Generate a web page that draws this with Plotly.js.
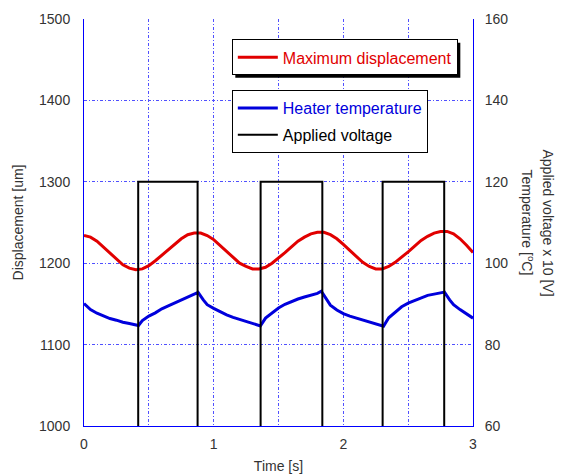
<!DOCTYPE html>
<html>
<head>
<meta charset="utf-8">
<script src="https://cdn.plot.ly/plotly-3.0.1.min.js"></script>
<style>html,body{margin:0;padding:0;background:#fff;}#chart{width:564px;height:476px;}</style>
</head>
<body>
<div id="chart"></div>
<script>
// Maximum displacement [um] (left axis)
var dispTime = [0.00,0.05,0.10,0.15,0.20,0.25,0.30,0.35,0.40,0.45,0.50,0.55,0.60,0.65,0.70,0.75,0.80,0.85,0.90,0.95,
  1.00,1.05,1.10,1.15,1.20,1.25,1.30,1.35,1.40,1.45,1.50,1.55,1.60,1.65,1.70,1.75,1.80,1.85,1.90,1.95,
  2.00,2.05,2.10,2.15,2.20,2.25,2.30,2.35,2.40,2.45,2.50,2.55,2.60,2.65,2.70,2.75,2.80,2.85,2.90,2.95,3.00];
var displacement = [1234,1232,1227,1220,1212,1205,1198,1194,1192,1193,1197,1203,1210,1217,1224,1230,1235,1237,1237,1234,
  1229,1222,1215,1207,1200,1196,1193,1193,1195,1200,1206,1213,1220,1227,1232,1236,1238,1238,1235,1230,
  1223,1216,1208,1201,1196,1193,1193,1196,1201,1207,1214,1221,1228,1233,1237,1239,1239,1236,1230,1222,1213];

// Heater temperature [°C] (right axis)
var tempTime = [0.00,0.05,0.10,0.15,0.20,0.25,0.30,0.35,0.40,0.42,0.45,0.50,0.55,0.60,0.65,0.70,0.75,0.80,0.85,0.88,
  0.92,0.95,1.00,1.05,1.10,1.15,1.20,1.25,1.30,1.36,1.40,1.45,1.50,1.55,1.60,1.65,1.70,1.75,1.80,1.83,
  1.87,1.90,1.95,2.00,2.05,2.10,2.15,2.20,2.25,2.31,2.35,2.40,2.45,2.50,2.55,2.60,2.65,2.70,2.75,2.78,
  2.82,2.85,2.90,2.95,3.00];
var temperature = [90.1,88.6,87.7,87.1,86.4,86.0,85.5,85.2,84.8,84.7,85.9,87.0,87.8,88.8,89.5,90.2,90.9,91.6,92.3,92.8,
  91.0,89.8,88.9,88.0,87.3,86.7,86.2,85.6,85.1,84.6,86.5,87.8,89.0,89.9,90.6,91.2,91.7,92.1,92.6,93.1,
  91.0,89.7,88.5,87.6,87.0,86.5,86.0,85.5,85.0,84.5,86.6,87.9,89.3,90.2,90.9,91.6,92.1,92.4,92.8,92.9,
  91.0,89.8,88.6,87.5,86.5];

// Applied voltage [V] (plotted x 10 on right axis)
var voltTime = [0,0.418,0.418,0.876,0.876,1.362,1.362,1.838,1.838,2.303,2.303,2.778,2.778,3.0];
var voltage = [0,0,12,12,0,0,12,12,0,0,12,12,0,0];

var tickFont = {family:'Liberation Sans, Arial, sans-serif', size:14, color:'#333333'};
var gridDash = '3px,2px,1px,2px';
var gridColor = 'rgb(80,80,255)';

var traces = [
  {x: dispTime, y: displacement, type:'scatter', mode:'lines', name:'<span style="color:rgb(225,0,0)">Maximum displacement</span>',
   line:{color:'rgb(225,0,0)', width:3}, legend:'legend', yaxis:'y'},
  {x: tempTime, y: temperature, type:'scatter', mode:'lines', name:'<span style="color:rgb(0,0,220)">Heater temperature</span>',
   line:{color:'rgb(0,0,220)', width:3}, legend:'legend2', legendgroup:'a', yaxis:'y2'},
  {x: voltTime, y: voltage.map(function(v){return v*10;}), type:'scatter', mode:'lines', name:'<span style="color:#000">Applied voltage</span>',
   line:{color:'#000000', width:2}, legend:'legend2', legendgroup:'b', yaxis:'y2'}
];

var layout = {
  width:564, height:476,
  margin:{l:84, r:91, t:19, b:50},
  paper_bgcolor:'#ffffff', plot_bgcolor:'#ffffff',
  font:{family:'Liberation Sans, Arial, sans-serif', size:14, color:'#333333'},
  showlegend:true,
  xaxis:{range:[0,3], tickvals:[0,0.5,1,1.5,2,2.5,3], ticktext:['0','','1','','2','','3'],
    showline:true, linecolor:'#0000ff', linewidth:1, mirror:false,
    showgrid:true, gridcolor:gridColor, griddash:gridDash, gridwidth:1, zeroline:false,
    ticks:'', tickfont:tickFont, ticklabelstandoff:5,
    title:{text:'Time [s]', font:{size:14, color:'#333333'}, standoff:10}},
  yaxis:{range:[1000,1500], dtick:100, showline:true, linecolor:'#0000ff', linewidth:1,
    showgrid:true, gridcolor:gridColor, griddash:gridDash, gridwidth:1, zeroline:false,
    ticks:'', tickfont:tickFont, ticklabelstandoff:10,
    title:{text:'Displacement [um]', font:{size:14, color:'#333333'}, standoff:12}},
  yaxis2:{range:[60,160], dtick:20, overlaying:'y', side:'right', showline:true, linecolor:'#0000ff', linewidth:1,
    showgrid:false, zeroline:false, ticks:'', tickfont:tickFont, ticklabelstandoff:8},
  legend:{x:0.380, y:0.950, xanchor:'left', yanchor:'top', bgcolor:'#ffffff', bordercolor:'#000000', borderwidth:1,
    font:{size:16, color:'#000'}, itemwidth:40, tracegroupgap:0},
  legend2:{x:0.380, y:0.8256, xanchor:'left', yanchor:'top', bgcolor:'#ffffff', bordercolor:'#000000', borderwidth:1,
    font:{size:16, color:'#000'}, itemwidth:40, tracegroupgap:3},
  annotations:[
    {text:'Temperature [<sup>o</sup>C]', xref:'paper', yref:'paper', x:(528-84)/389, y:0.5, xanchor:'center', yanchor:'middle',
     textangle:90, showarrow:false, font:{size:14, color:'#333333'}},
    {text:'Applied voltage x 10 [V]', xref:'paper', yref:'paper', x:(548-84)/389, y:0.5, xanchor:'center', yanchor:'middle',
     textangle:90, showarrow:false, font:{size:14, color:'#333333'}}
  ]
};

Plotly.newPlot('chart', traces, layout, {displayModeBar:false, staticPlot:true}).then(function(gd){
  // add drop shadows behind the two legend boxes
  var sz = gd._fullLayout._size;
  var shapes = [];
  var c = document.getElementById('chart').getBoundingClientRect();
  document.querySelectorAll('.legend').forEach(function(lg){
    var r = lg.querySelector('.bg').getBoundingClientRect();
    var x0 = r.left - c.left + 3, x1 = r.right - c.left + 3;
    var y0 = r.top - c.top + 3, y1 = r.bottom - c.top + 3;
    shapes.push({type:'rect', xref:'paper', yref:'paper', layer:'above',
      x0:(x0 - sz.l)/sz.w, x1:(x1 - sz.l)/sz.w,
      y0:1 - (y0 - sz.t)/sz.h, y1:1 - (y1 - sz.t)/sz.h,
      fillcolor:'#000000', line:{width:0}});
  });
  return Plotly.relayout(gd, {shapes:shapes});
});
</script>
</body>
</html>
